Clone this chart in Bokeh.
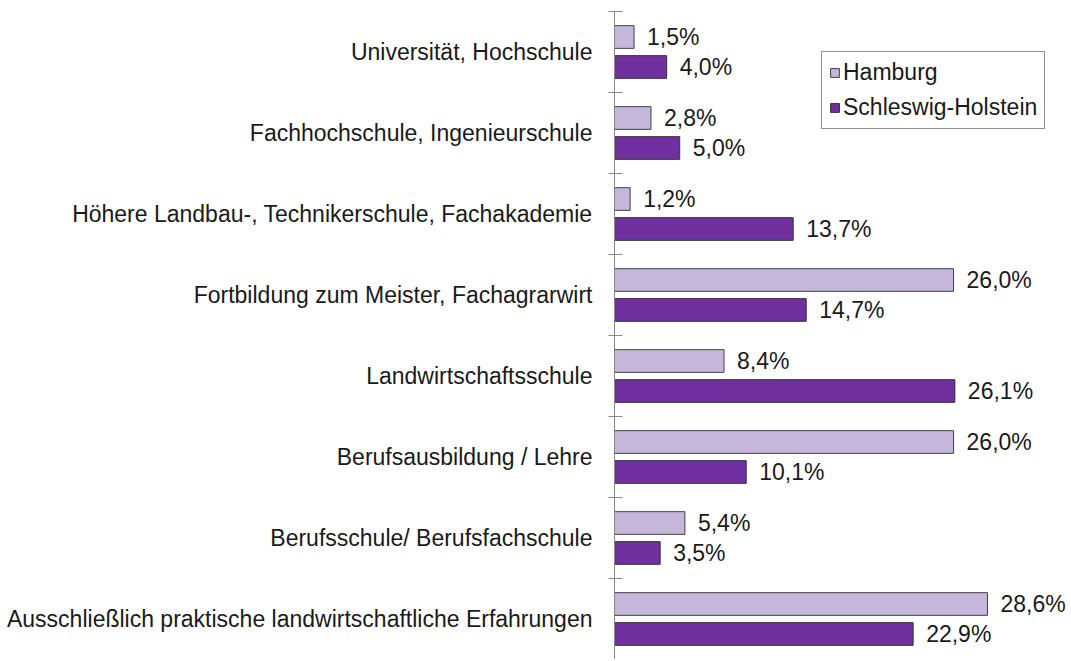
from bokeh.plotting import figure
from bokeh.models import ColumnDataSource, FixedTicker, Legend, LegendItem
from bokeh.core.properties import value
from bokeh.embed import file_html
from bokeh.resources import INLINE

categories = [
    "Universität, Hochschule",
    "Fachhochschule, Ingenieurschule",
    "Höhere Landbau-, Technikerschule, Fachakademie",
    "Fortbildung zum Meister, Fachagrarwirt",
    "Landwirtschaftsschule",
    "Berufsausbildung / Lehre",
    "Berufsschule/ Berufsfachschule",
    "Ausschließlich praktische landwirtschaftliche Erfahrungen",
]
hamburg = [1.5, 2.8, 1.2, 26.0, 8.4, 26.0, 5.4, 28.6]
schleswig_holstein = [4.0, 5.0, 13.7, 14.7, 26.1, 10.1, 3.5, 22.9]
series_names = ["Hamburg", "Schleswig-Holstein"]

FONT = "Liberation Sans"
FS = "23px"
n = len(categories)
centers = [n - i - 0.5 for i in range(n)]


def fmt(v):
    return f"{v:.1f}".replace(".", ",") + "%"


src_h = ColumnDataSource(dict(y=[c + 0.185 for c in centers], x=hamburg,
                              lab=[fmt(v) for v in hamburg]))
src_s = ColumnDataSource(dict(y=[c - 0.185 for c in centers], x=schleswig_holstein,
                              lab=[fmt(v) for v in schleswig_holstein]))

p = figure(width=1066, height=659, output_backend="svg", toolbar_location=None,
           x_range=(0, 34.66), y_range=(0, n), x_axis_location=None,
           min_border_left=614, min_border_right=0, min_border_top=11, min_border_bottom=0)
p.outline_line_color = None
p.xgrid.visible = False
p.ygrid.visible = False

r1 = p.hbar(y="y", right="x", left=0, height=0.28, source=src_h,
            fill_color="#C5B6DC", line_color="#404040", line_width=1)
r2 = p.hbar(y="y", right="x", left=0, height=0.28, source=src_s,
            fill_color="#7030A0", line_color="#303030", line_width=1)

for src in (src_h, src_s):
    p.text(x="x", y="y", text="lab", source=src, x_offset=13, text_baseline="middle",
           text_align="left", text_font=value(FONT), text_font_size=FS, text_color="#1a1a1a")

yax = p.yaxis[0]
yax.ticker = FixedTicker(ticks=centers, minor_ticks=list(range(0, n + 1)))
yax.major_label_overrides = {c: cat for c, cat in zip(centers, categories)}
yax.major_tick_in = 0
yax.major_tick_out = 0
yax.minor_tick_in = 8
yax.minor_tick_out = 6
yax.minor_tick_line_color = "#888888"
yax.axis_line_color = "#888888"
yax.major_label_standoff = 16
yax.major_label_text_font = FONT
yax.major_label_text_font_size = FS
yax.major_label_text_color = "#1a1a1a"

legend = Legend(items=[LegendItem(label=series_names[0], renderers=[r1]),
                       LegendItem(label=series_names[1], renderers=[r2])],
                location=(207, 530))
legend.label_text_font = FONT
legend.label_text_font_size = FS
legend.label_text_color = "#1a1a1a"
legend.glyph_width = 11
legend.glyph_height = 11
legend.label_standoff = 3
legend.label_height = 20
legend.spacing = 8
legend.padding = 7
legend.margin = 0
legend.border_line_color = "#222222"
legend.border_line_width = 1
legend.background_fill_alpha = 1
p.add_layout(legend)

open("out.html", "w").write(file_html(p, INLINE))
